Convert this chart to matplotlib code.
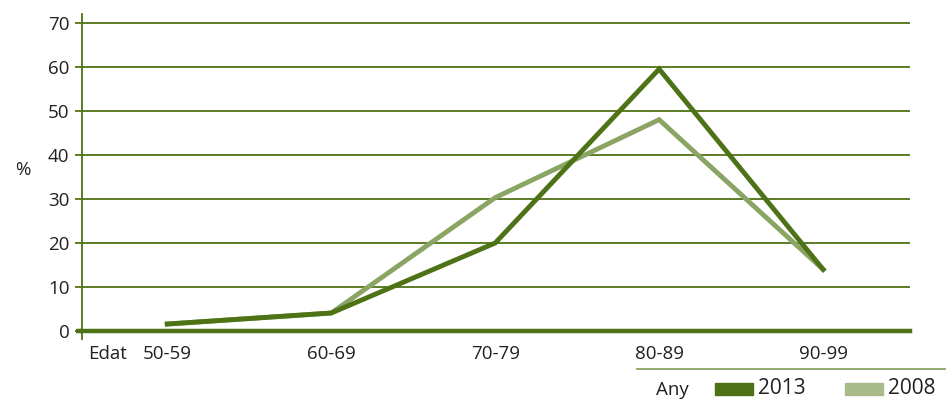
import matplotlib.pyplot as plt
from matplotlib.patches import Rectangle
from matplotlib.lines import Line2D
import numpy as np

plt.rcParams['font.family'] = ['Open Sans', 'DejaVu Sans']

edats = ["50-59", "60-69", "70-79", "80-89", "90-99"]
valors2013 = [1.6, 4.1, 20.0, 59.5, 14.0]
valors2008 = [1.6, 4.1, 30.3, 48.0, 14.0]
anys = ["2013", "2008"]

verd_fosc = '#4e7216'
verd_clar = '#8aa563'
verd_llegenda = '#a9bb8a'
text_color = '#231f20'

fig = plt.figure(figsize=(9.51, 4.03), dpi=100)
ax = fig.add_axes([82/951, 1-339/403, (910-82)/951, (339-14)/403])

x = np.arange(len(edats))
ax.plot(x, valors2008, color=verd_clar, lw=3.5, solid_joinstyle='miter', zorder=3)
ax.plot(x, valors2013, color=verd_fosc, lw=3.5, solid_joinstyle='miter', zorder=4)

ax.set_xlim(-0.52, 4.53)
ax.set_ylim(-1.8, 72)
ax.set_yticks(range(0, 71, 10))
ax.set_xticks(x)
ax.set_xticklabels(edats)
for v in range(10, 71, 10):
    ax.axhline(v, color=verd_fosc, lw=1.3, zorder=1)

for s in ['top', 'right']:
    ax.spines[s].set_visible(False)
ax.spines['bottom'].set_position(('data', 0))
ax.spines['bottom'].set_color(verd_fosc)
ax.spines['bottom'].set_linewidth(3.2)
ax.spines['left'].set_color(verd_fosc)
ax.spines['left'].set_linewidth(1.3)
ax.tick_params(axis='y', colors=verd_fosc, length=5, width=1.3, labelsize=13.5, labelcolor=text_color, pad=4)
ax.tick_params(axis='x', length=0, labelsize=13.5, labelcolor=text_color, pad=10)
# petit tros de l'eix inferior a l'esquerra de l'eix vertical
ax.plot([-6/828, 0], [0, 0], transform=ax.get_yaxis_transform(), color=verd_fosc,
        lw=3.2, clip_on=False, solid_capstyle='butt')

fig.text(15/951, 1-170/403, '%', fontsize=13.5, color=text_color, ha='left', va='center')
fig.text(88/951, 1-354/403, 'Edat', fontsize=13.5, color=text_color, ha='left', va='center')

# llegenda
fig.add_artist(Line2D([637/951, 945/951], [1-369/403, 1-369/403], color='#8aa563', lw=1.3))
fig.text(656/951, 1-390/403, 'Any', fontsize=13.5, color=text_color, ha='left', va='center')
colors_llegenda = [verd_fosc, verd_llegenda]
xs = [715, 845]
for a, c, x0 in zip(anys, colors_llegenda, xs):
    fig.add_artist(Rectangle((x0/951, 1-395/403), 38/951, 12/403, color=c, transform=fig.transFigure))
    fig.text((x0+43)/951, 1-389/403, a, fontsize=15, color=text_color, ha='left', va='center')

fig.savefig('out.png', dpi=100)
